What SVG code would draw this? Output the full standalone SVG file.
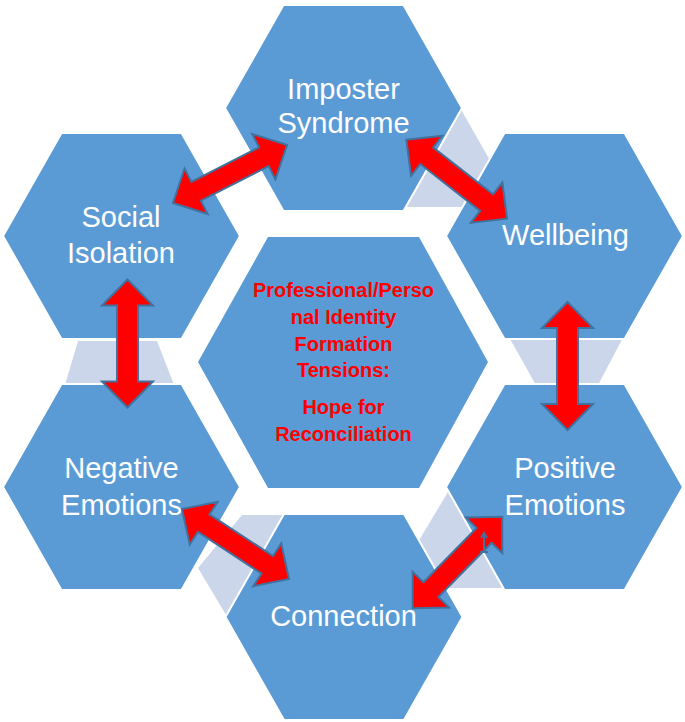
<svg xmlns="http://www.w3.org/2000/svg" width="685" height="722" viewBox="0 0 685 722">
<style>
.hex{fill:#5B9BD5;stroke:#FFFFFF;stroke-width:2}
.chex{fill:#5B9BD5}
.lite{fill:#CCD6EA}
.lbl{font-family:"Liberation Sans",Arial,sans-serif;font-size:29px;fill:#FFFFFF;text-anchor:middle}
.ctr{font-family:"Liberation Sans",Arial,sans-serif;font-size:20px;font-weight:bold;fill:#FF0000;text-anchor:middle}
.arr{fill:#FF0000;stroke:#41719C;stroke-width:2;stroke-linejoin:miter}
</style>
<defs>
<path id="dbl" d="M-64,0 L-38,-25.5 L-38,-10.5 L38,-10.5 L38,-25.5 L64,0 L38,25.5 L38,10.5 L-38,10.5 L-38,25.5 Z"/>
<polygon id="ohex" points="-118.5,0 -60,-103 60,-103 118.5,0 60,103 -60,103"/>
</defs>
<rect width="685" height="722" fill="#FFFFFF"/>
<g id="center">
<polygon class="chex" points="198,362 268,237 419,237 488,362 419,488 268,488"/>
<text class="ctr" x="343.5" y="297">Professional/Perso</text>
<text class="ctr" x="343.5" y="324">nal Identity</text>
<text class="ctr" x="343.5" y="351">Formation</text>
<text class="ctr" x="343.5" y="377">Tensions:</text>
<text class="ctr" x="343.5" y="414">Hope for</text>
<text class="ctr" x="343.5" y="441">Reconciliation</text>
</g>
<g id="spacers">
<polygon class="lite" points="440,100 457,102 463,113 500,178 480,207 395,207"/>
<polygon class="lite" points="505,330 627,330 597,387 537,387"/>
<polygon class="lite" points="452,485 445,497 421,537 410,555 430,588 520,588"/>
<polygon class="lite" points="242,515 300,515 250,640 232,625 198,568"/>
<polygon class="lite" points="78,341 157,341 178,395 62,395"/>
</g>
<g id="imposter">
<use href="#ohex" class="hex" transform="translate(343.5,108)"/>
<text class="lbl" x="343.5" y="99">Imposter</text>
<text class="lbl" x="343.5" y="133">Syndrome</text>
</g>
<g id="social">
<use href="#ohex" class="hex" transform="translate(121.5,236)"/>
<text class="lbl" x="121" y="227">Social</text>
<text class="lbl" x="121" y="263">Isolation</text>
</g>
<g id="wellbeing">
<use href="#ohex" class="hex" transform="translate(564.5,236)"/>
<text class="lbl" x="565.5" y="245">Wellbeing</text>
</g>
<g id="negative">
<use href="#ohex" class="hex" transform="translate(121.5,487)"/>
<text class="lbl" x="121.5" y="478">Negative</text>
<text class="lbl" x="121.5" y="515">Emotions</text>
</g>
<g id="positive">
<use href="#ohex" class="hex" transform="translate(564.5,487)"/>
<text class="lbl" x="565" y="478">Positive</text>
<text class="lbl" x="565" y="515">Emotions</text>
</g>
<g id="connection">
<use href="#ohex" class="hex" transform="translate(344,617)"/>
<text class="lbl" x="343.5" y="626">Connection</text>
</g>
<g id="connectors">
<use href="#dbl" class="arr" transform="translate(230,174) rotate(-26.97)"/>
<use href="#dbl" class="arr" transform="translate(456.7,179.2) rotate(38.06)"/>
<use href="#dbl" class="arr" transform="translate(567.5,366) rotate(90)"/>
<use href="#dbl" class="arr" transform="translate(127.5,343.5) rotate(90)"/>
<use href="#dbl" class="arr" transform="translate(235.5,544) rotate(33.2)"/>
<use href="#dbl" class="arr" transform="translate(457.5,562.5) rotate(-45.6)"/>
<path d="M484,533 L484,552 M480,552 L488,552 M481,538 L484,533 L487,538" fill="none" stroke="#41719C" stroke-width="2"/>
</g>
</svg>
